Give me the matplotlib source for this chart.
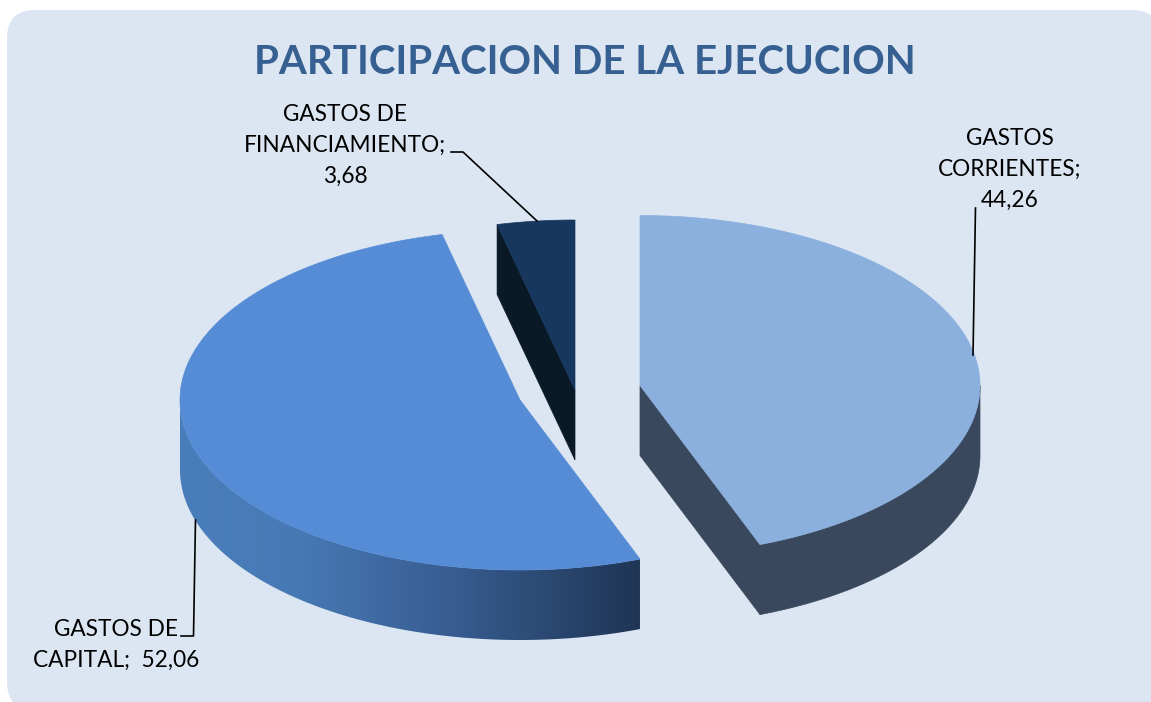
import matplotlib
matplotlib.use('Agg')
import matplotlib.pyplot as plt
import numpy as np
from matplotlib.colors import LinearSegmentedColormap
from matplotlib.patches import FancyBboxPatch

plt.rcParams['font.family'] = ['Lato', 'DejaVu Sans']

title = 'PARTICIPACION DE LA EJECUCION'
categories = ['GASTOS CORRIENTES', 'GASTOS DE CAPITAL', 'GASTOS DE FINANCIAMIENTO']
values = [44.26, 52.06, 3.68]
value_labels = ['44,26', '52,06', '3,68']

top_colors = ['#8BB0DE', '#558CD5', '#17375E']
wall_colors = ['#39485C', None, '#091A26']

# apex of every exploded slice, in pixels
apex = [(640, 385.5), (520, 400), (575, 390)]
rx, ry, depth = 340, 170, 70

fig = plt.figure(figsize=(11.51, 7.02), dpi=100)
ax = fig.add_axes([0, 0, 1, 1])
ax.set_xlim(0, 1151)
ax.set_ylim(702, 0)
ax.axis('off')

panel = FancyBboxPatch((7, 10), 1153, 700, boxstyle='round,pad=0,rounding_size=28',
                       fc='#DCE6F2', ec='none', zorder=0)
ax.add_patch(panel)


def rim(c, a0, a1, dy=0):
    # angles clockwise from 12 o'clock, in degrees
    t = np.radians(np.linspace(a0, a1, 200))
    return c[0] + rx * np.sin(t), c[1] - ry * np.cos(t) + dy


angles = 360 * np.cumsum([0] + values) / sum(values)

# walls first, tops over them
c = apex[0]
a0, a1 = angles[0], angles[1]
x, y = rim(c, 90, a1)
x2, y2 = rim(c, 90, a1, depth)
ax.fill(np.r_[x, x2[::-1]], np.r_[y, y2[::-1]], color=wall_colors[0], lw=0.5, zorder=1)
ex, ey = rim(c, a1, a1)
ax.fill([c[0], ex[0], ex[0], c[0]], [c[1], ey[0], ey[0] + depth, c[1] + depth],
        color=wall_colors[0], lw=0.5, zorder=1)

c = apex[1]
a0, a1 = angles[1], angles[2]
x, y = rim(c, a0, 270)
x2, y2 = rim(c, a0, 270, depth)
wall = ax.fill(np.r_[x, x2[::-1]], np.r_[y, y2[::-1]], color='none', lw=0, zorder=1)[0]
shade = LinearSegmentedColormap.from_list('shade', [(0, '#4A7EBB'), (0.25, '#477AB5'),
                                                    (0.6, '#375C90'), (1, '#1F3554')])
im = ax.imshow(np.linspace(0, 1, 256)[None, :], cmap=shade, aspect='auto',
               extent=(x.min(), x.max(), 702, 0), zorder=1)
im.set_clip_path(wall)
ax.set_xlim(0, 1151)
ax.set_ylim(702, 0)

c = apex[2]
a0, a1 = angles[2], angles[3]
ex, ey = rim(c, a0, a0)
ax.fill([c[0], ex[0], ex[0], c[0]], [c[1], ey[0], ey[0] + depth, c[1] + depth],
        color=wall_colors[2], lw=0.5, zorder=1)

for i in range(3):
    x, y = rim(apex[i], angles[i], angles[i + 1])
    ax.fill(np.r_[apex[i][0], x], np.r_[apex[i][1], y], color=top_colors[i], lw=0.5, zorder=2)

# leader lines
ax.plot([975.5, 973], [208, 355], color='black', lw=1.2, zorder=3)
ax.plot([451, 463, 537], [152, 152, 221], color='black', lw=1.2, zorder=3)
ax.plot([195.5, 193.5, 181], [520, 636, 636], color='black', lw=1.2, zorder=3)

ax.text(585, 62, title, fontsize=29, fontweight='bold', color='#376092',
        ha='center', va='center', zorder=4)

fs = 16.3
ax.text(1010, 169, 'GASTOS\nCORRIENTES;\n' + value_labels[0], fontsize=fs, ha='center',
        va='center', linespacing=1.58, color='black', zorder=4)
ax.text(345, 145, 'GASTOS DE\nFINANCIAMIENTO;\n' + value_labels[2], fontsize=fs, ha='center',
        va='center', linespacing=1.58, color='black', zorder=4)
ax.text(116, 645, 'GASTOS DE\nCAPITAL;  ' + value_labels[1], fontsize=fs, ha='center',
        va='center', linespacing=1.58, color='black', zorder=4)

fig.savefig('out.png', dpi=100)
